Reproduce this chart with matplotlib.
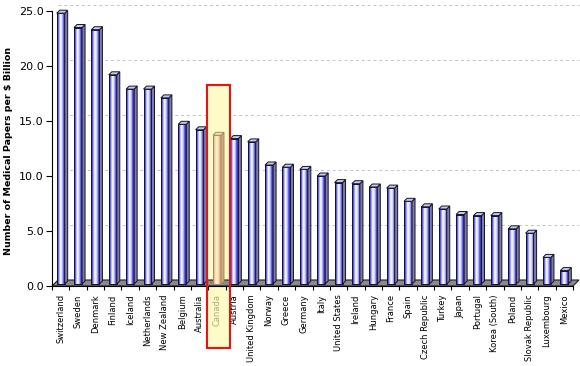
import matplotlib
matplotlib.use("Agg")
import matplotlib.pyplot as plt
import numpy as np
from matplotlib.patches import Polygon, Rectangle
from matplotlib.colors import LinearSegmentedColormap

# Daten: Medizinische Publikationen pro Milliarde $
countries = ["Switzerland", "Sweden", "Denmark", "Finland", "Iceland", "Netherlands",
             "New Zealand", "Belgium", "Australia", "Canada", "Austria", "United Kingdom",
             "Norway", "Greece", "Germany", "Italy", "United States", "Ireland", "Hungary",
             "France", "Spain", "Czech Republic", "Turkey", "Japan", "Portugal",
             "Korea (South)", "Poland", "Slovak Republic", "Luxembourg", "Mexico"]
papers = [24.8, 23.5, 23.3, 19.2, 17.9, 17.9, 17.1, 14.7, 14.2, 13.7, 13.4, 13.1,
          11.0, 10.8, 10.6, 10.0, 9.4, 9.3, 9.0, 8.9, 7.7, 7.2, 7.0, 6.5, 6.4,
          6.4, 5.2, 4.8, 2.6, 1.4]
yticks = [0, 5, 10, 15, 20, 25]
highlight = "Canada"

W, H = 580, 366
fig = plt.figure(figsize=(W / 100, H / 100), dpi=100)
ax = fig.add_axes([52 / W, (H - 286) / H, 521 / W, 275 / H])
n = len(countries)
ax.set_xlim(0, n)
ax.set_ylim(0, 25)

# Pixel -> Dateneinheiten
px_x = n / 521
px_y = 25 / 275

blue_cmap = LinearSegmentedColormap.from_list("cyl", [
    (0.0, "#2a2aa8"), (0.15, "#4848f0"), (0.4, "#ffffff"),
    (0.62, "#dcdcff"), (0.85, "#4a4aee"), (1.0, "#3030b8")])
orange_cmap = LinearSegmentedColormap.from_list("cyl2", [
    (0.0, "#d89a68"), (0.15, "#f0b880"), (0.4, "#fff6e6"),
    (0.62, "#ffe2c0"), (0.85, "#f0b47c"), (1.0, "#d8a070")])
grad = np.linspace(0, 1, 64).reshape(1, -1)

# Boden (3D)
fd = 6
floor = Polygon([(0, 0), (n, 0), (n + fd * px_x, fd * px_y), (fd * px_x, fd * px_y)],
                closed=True, facecolor="#8a8a8a", edgecolor="#202020", lw=0.8,
                zorder=2, clip_on=False)
ax.add_patch(floor)

# Gitterlinien an der Rueckwand
for v in yticks[1:]:
    ax.plot([fd * px_x, n + fd * px_x], [v + fd * px_y, v + fd * px_y],
            color="#c4c4c4", lw=0.7, ls=(0, (3, 3)), zorder=1, clip_on=False)

# Markierung Kanada
ci = countries.index(highlight)
box = Rectangle((ci - 0.08, -5.64), 1.33, 18.27 + 5.64, facecolor="#fdfcc8",
                edgecolor="none", zorder=1.5, clip_on=False)
ax.add_patch(box)

bw = 8 * px_x
dx, dy = 3 * px_x, 3 * px_y
y0 = 2 * px_y
for i, (c, v) in enumerate(zip(countries, papers)):
    xc = i + 0.5
    x0, x1 = xc - bw / 2, xc + bw / 2
    if c == highlight:
        cmap, side, top, edge = orange_cmap, "#c8aa84", "#f4dcb8", "#a88860"
    else:
        cmap, side, top, edge = blue_cmap, "#7c7ca4", "#c8c8f2", "#141428"
    ax.imshow(grad, cmap=cmap, extent=[x0, x1, y0, v], aspect="auto",
              interpolation="bilinear", zorder=3)
    ax.add_patch(Rectangle((x0, y0), bw, v - y0, fill=False, edgecolor=edge,
                           lw=0.7, zorder=4))
    ax.add_patch(Polygon([(x1, y0), (x1 + dx, y0 + dy), (x1 + dx, v + dy), (x1, v)],
                         closed=True, facecolor=side, edgecolor=edge, lw=0.7, zorder=4))
    ax.add_patch(Polygon([(x0, v), (x1, v), (x1 + dx, v + dy), (x0 + dx, v + dy)],
                         closed=True, facecolor=top, edgecolor=edge, lw=0.7, zorder=4,
                         clip_on=False))

ax.add_patch(Rectangle((ci - 0.08, -5.64), 1.33, 18.27 + 5.64, fill=False,
                       edgecolor="#ee1111", lw=1.5, zorder=6, clip_on=False))

for s in ["top", "right"]:
    ax.spines[s].set_visible(False)
ax.spines["left"].set_linewidth(0.8)
ax.spines["bottom"].set_linewidth(0.8)
ax.spines["bottom"].set_zorder(5)

ax.set_yticks(yticks)
ax.set_yticklabels([f"{v:.1f}" for v in yticks], fontsize=8)
ax.tick_params(axis="y", length=4, width=0.8, pad=2)

ax.set_xticks(np.arange(n) + 0.5)
ax.set_xticklabels(countries, rotation=90, fontsize=6)
ax.set_xticks(np.arange(n + 1), minor=True)
ax.tick_params(axis="x", which="major", length=0, pad=6)
ax.tick_params(axis="x", which="minor", length=3, width=0.8)
ax.get_xticklabels()[ci].set_color("#b8a878")

ax.set_ylabel("Number of Medical Papers per $ Billion", fontsize=6.8, fontweight="bold")
ax.yaxis.set_label_coords(-39 / 521, 0.49)

fig.savefig("out.png", dpi=100)
